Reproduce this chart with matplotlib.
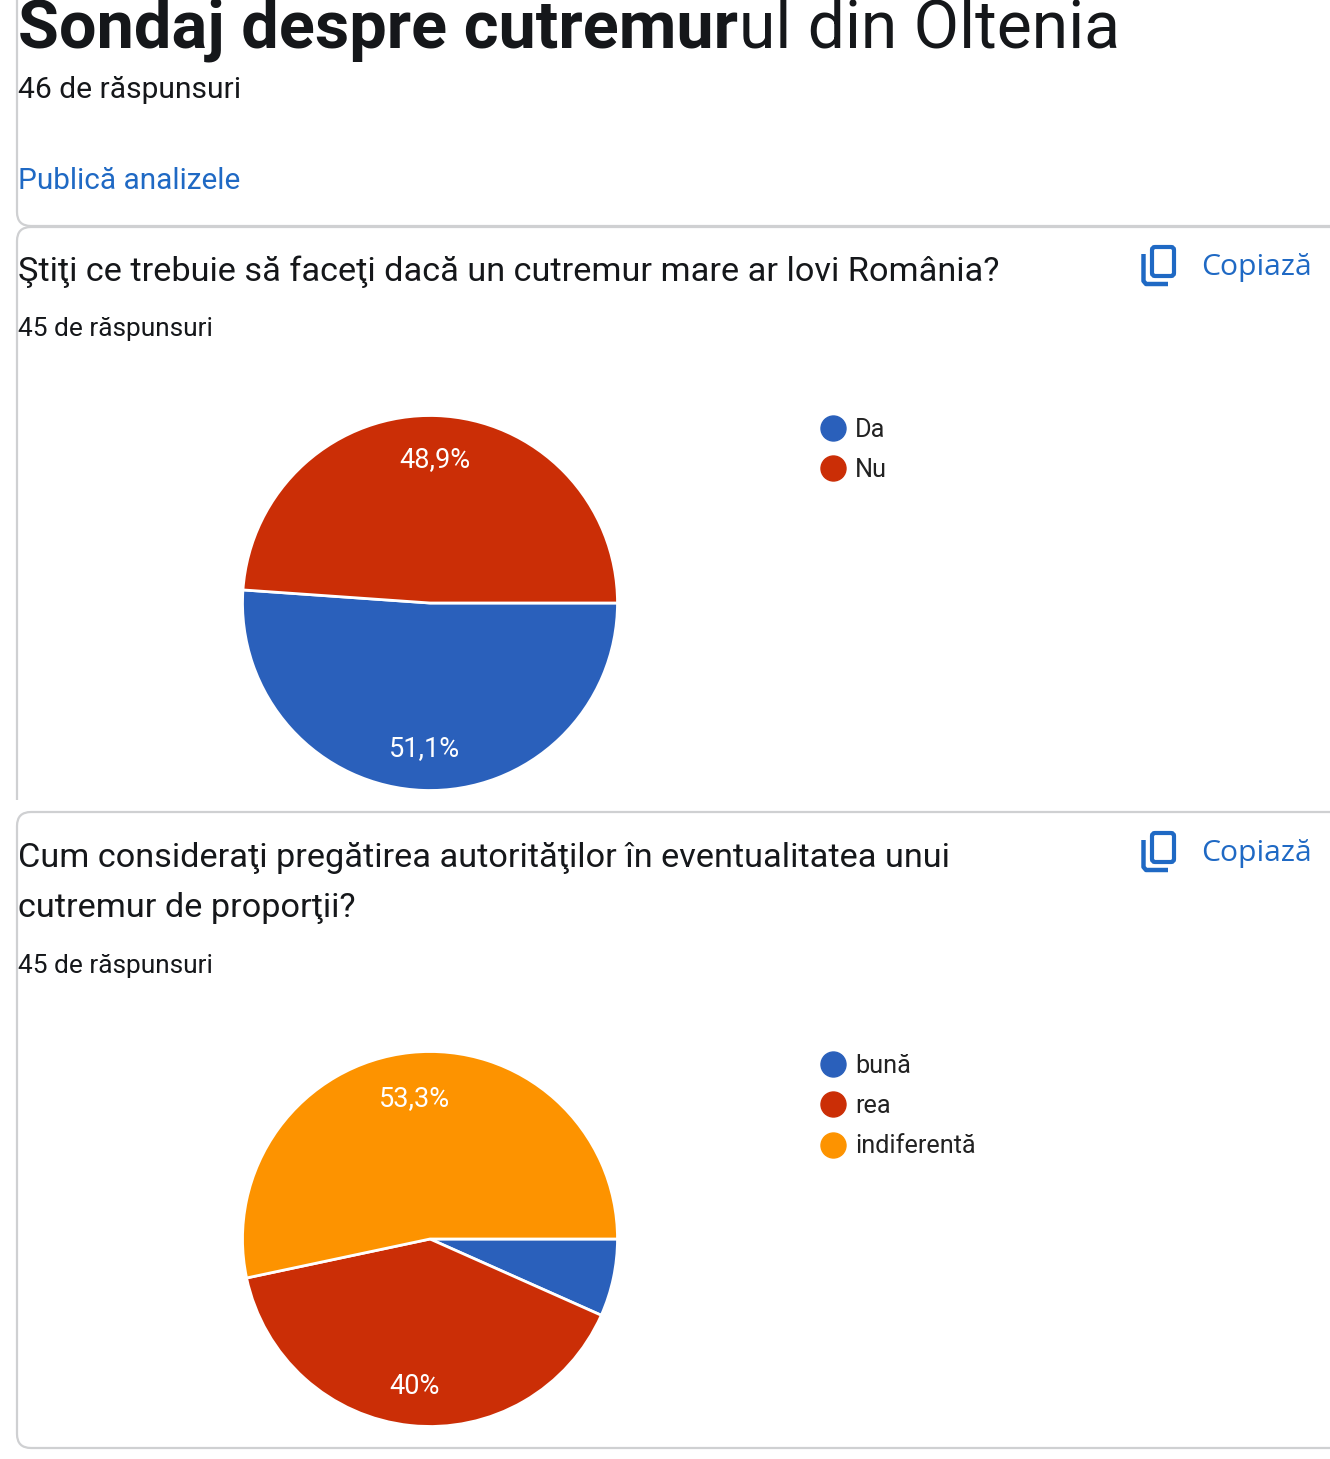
import matplotlib
matplotlib.use('Agg')
import matplotlib.pyplot as plt
from matplotlib.lines import Line2D
from matplotlib.patches import FancyBboxPatch, PathPatch
from matplotlib.path import Path

plt.rcParams['font.family'] = ['Roboto', 'DejaVu Sans']

W, H = 1330, 1459

# date
q1_labels = ['Da', 'Nu']
q1_values = [23, 22]
q2_labels = ['bună', 'rea', 'indiferentă']
q2_values = [3, 18, 24]
colors = ['#2a60bb', '#cb2e06', '#fd9300']

BLUE = '#1f69c4'
DARK = '#15171a'
BORDER = '#cfd0d2'

fig = plt.figure(figsize=(W / 100, H / 100), dpi=100, facecolor='white')
bg = fig.add_axes([0, 0, 1, 1])
bg.set_xlim(0, W)
bg.set_ylim(H, 0)
bg.axis('off')


def pct_text(p):
    if p < 10:
        return ''  # felia mica nu are eticheta
    s = f'{p:.1f}'
    if s.endswith('.0'):
        s = s[:-2]
    return s.replace('.', ',') + '%'


def draw_pie(values, labels, cx, cy, r, legend_y, label_dy):
    ax = fig.add_axes([(cx - r) / W, 1 - (cy + r) / H, 2 * r / W, 2 * r / H])
    wedges, texts, autotexts = ax.pie(values, colors=colors[:len(values)], startangle=0,
                                      counterclock=False, autopct=pct_text, pctdistance=0.78,
                                      wedgeprops={'edgecolor': 'white', 'linewidth': 2})
    ax.set_xlim(-1, 1)
    ax.set_ylim(-1, 1)
    for w in wedges:
        w.set_clip_on(False)
    for t, dy in zip(autotexts, label_dy):
        t.set_color('white')
        t.set_fontsize(19.5)
        t.set_y(t.get_position()[1] - dy / r)  # dy in pixeli
    handles = [Line2D([], [], linestyle='none', marker='o', markersize=18,
                      markerfacecolor=c, markeredgecolor=c) for c in colors[:len(values)]]
    leg = fig.legend(handles, labels, loc='upper left',
                     bbox_to_anchor=(816.6 / W, 1 - legend_y / H), bbox_transform=fig.transFigure,
                     frameon=False, fontsize=18.2, labelcolor='#222222', borderpad=0,
                     borderaxespad=0, handletextpad=0.25, handlelength=1.27, labelspacing=0.64)
    return leg


def card_edge(verts, codes):
    bg.add_patch(PathPatch(Path(verts, codes), facecolor='none', edgecolor=BORDER, lw=1.6))


def copy_icon(y):
    bg.add_patch(FancyBboxPatch((1152, y - 18), 22, 29, boxstyle='round,pad=0,rounding_size=3',
                                facecolor='none', edgecolor=BLUE, lw=3))
    bg.plot([1143.5, 1143.5, 1146, 1168], [y - 11, y + 16, y + 19, y + 19], color=BLUE, lw=3.2,
            solid_capstyle='butt', solid_joinstyle='round')
    bg.text(1201, y + 2, 'Copiază', color=BLUE, fontsize=21.7, family='Open Sans', va='center')


# margini carduri
M, L, C = Path.MOVETO, Path.LINETO, Path.CURVE3
card_edge([(17, 0), (17, 212), (17, 226), (31, 226), (1330, 226)], [M, L, C, C, L])
card_edge([(1330, 227), (31, 227), (17, 227), (17, 241), (17, 800)], [M, L, C, C, L])
card_edge([(1330, 812), (31, 812), (17, 812), (17, 826), (17, 1434), (17, 1448), (31, 1448), (1330, 1448)],
          [M, L, C, C, L, C, C, L])

# titlu
t1 = bg.text(18, 48, 'Sondaj despre cutremur', fontsize=48, fontweight='bold', color=DARK)
fig.canvas.draw()
ext = t1.get_window_extent()
bg.text(ext.x1 + 1, 48, 'ul din Oltenia', fontsize=47.5, color=DARK)

bg.text(17.5, 98, '46 de răspunsuri', fontsize=21.6, color=DARK)
bg.text(17.5, 189, 'Publică analizele', fontsize=21.4, color=BLUE)

bg.text(17.5, 281, 'Ştiţi ce trebuie să faceţi dacă un cutremur mare ar lovi România?',
        fontsize=24.65, color=DARK)
bg.text(17.5, 336, '45 de răspunsuri', fontsize=18.9, color=DARK)
copy_icon(265)

bg.text(17.5, 867, 'Cum consideraţi pregătirea autorităţilor în eventualitatea unui', fontsize=24.65, color=DARK)
bg.text(17.5, 917, 'cutremur de proporţii?', fontsize=24.65, color=DARK)
bg.text(17.5, 973, '45 de răspunsuri', fontsize=18.9, color=DARK)
copy_icon(851)

draw_pie(q1_values, q1_labels, 430, 603, 187.5, 418, [-1, 3])
draw_pie(q2_values, q2_labels, 430, 1239, 187.5, 1054, [0, 2, 5])

fig.savefig('out.png', dpi=100)
